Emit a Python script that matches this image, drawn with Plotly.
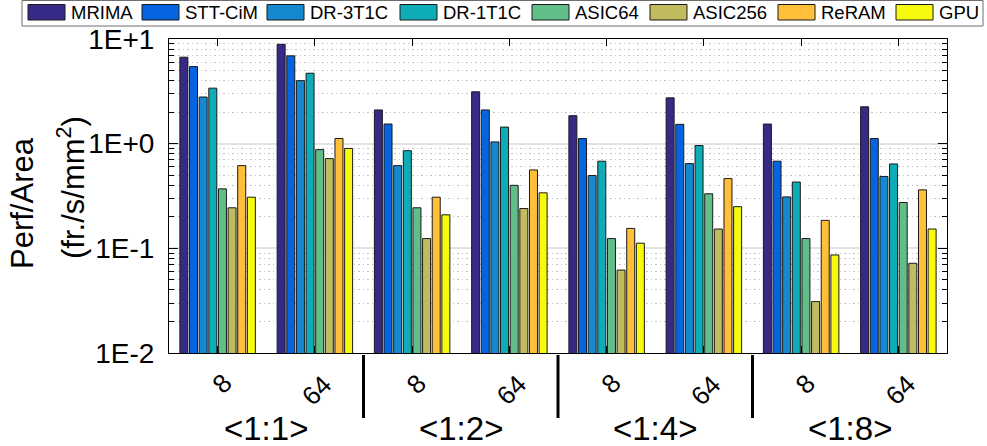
import plotly.graph_objects as go

# Ratio groups and precision settings along the x axis
ratios = ["<1:1>", "<1:2>", "<1:4>", "<1:8>"]
bits = ["8", "64"]

# Perf/Area (fr./s/mm^2) per design, ordered <1:1>-8, <1:1>-64, <1:2>-8, ...
mrima = [6.7, 8.9, 2.1, 3.13, 1.85, 2.74, 1.54, 2.25]
stt_cim = [5.45, 6.9, 1.54, 2.1, 1.12, 1.53, 0.68, 1.12]
dr_3t1c = [2.79, 4.0, 0.617, 1.04, 0.496, 0.645, 0.31, 0.485]
dr_1t1c = [3.39, 4.71, 0.857, 1.44, 0.68, 0.96, 0.43, 0.64]
asic64 = [0.37, 0.877, 0.244, 0.40, 0.124, 0.332, 0.124, 0.274]
asic256 = [0.244, 0.72, 0.124, 0.24, 0.062, 0.153, 0.031, 0.072]
reram = [0.617, 1.12, 0.308, 0.561, 0.155, 0.464, 0.185, 0.362]
gpu = [0.308, 0.90, 0.209, 0.339, 0.112, 0.25, 0.0864, 0.153]

series_names = ["MRIMA", "STT-CiM", "DR-3T1C", "DR-1T1C", "ASIC64", "ASIC256", "ReRAM", "GPU"]
series_values = [mrima, stt_cim, dr_3t1c, dr_1t1c, asic64, asic256, reram, gpu]
colors = ["#352a87", "#0565e0", "#1589d0", "#0eacb6", "#62be89", "#c0bb5e", "#ffbf38", "#f7f90f"]

y_tick_vals = [0.01, 0.1, 1, 10]
y_tick_text = ["1E-2", "1E-1", "1E+0", "1E+1"]
y_title = ["Perf/Area", "(fr./s/mm<sup>2</sup>)"]

FONT = "Liberation Sans, Arial, sans-serif"

# plot-area geometry in pixels
W, H = 987, 446
L, R, T, B = 169, 40, 39, 93
PW, PH = W - L - R, H - T - B


def px_x(px):
    return (px - L) / PW


def px_y(py):
    return (H - B - py) / PH


positions = [i for i in range(len(ratios) * len(bits))]

fig = go.Figure()
for name, vals, col in zip(series_names, series_values, colors):
    fig.add_trace(go.Bar(
        x=positions, y=vals, name=name,
        marker=dict(color=col, line=dict(color="#1a1a1a", width=1)),
        showlegend=False,
    ))

minor_vals = [k * 10 ** e for e in (-2, -1, 0) for k in range(2, 10)]

fig.update_layout(
    width=W, height=H,
    margin=dict(l=L, r=R, t=T, b=B, pad=0),
    paper_bgcolor="white", plot_bgcolor="white",
    barmode="group", bargap=0.207, bargroupgap=0.17,
    font=dict(family=FONT, color="black"),
    xaxis=dict(
        range=[-0.5, len(positions) - 0.5],
        tickmode="array", tickvals=positions,
        ticks="inside", ticklen=7, tickcolor="black", tickwidth=1,
        showticklabels=False, showgrid=False, zeroline=False,
        showline=True, linecolor="black", linewidth=1, mirror="ticks",
    ),
    yaxis=dict(
        type="log", range=[-2, 1],
        tickmode="array", tickvals=y_tick_vals, ticktext=y_tick_text,
        ticks="inside", ticklen=9, tickcolor="black", tickwidth=1,
        tickfont=dict(size=28, family=FONT),
        ticklabelstandoff=8,
        showgrid=True, gridcolor="#e2e2e2", gridwidth=1.5,
        showline=True, linecolor="black", linewidth=1, mirror="ticks",
        zeroline=False,
        minor=dict(
            tickmode="array", tickvals=minor_vals,
            ticks="inside", ticklen=5, tickcolor="black", tickwidth=1,
            showgrid=True, gridcolor="#c4c4c4", gridwidth=1, griddash="1.5px,3px",
        ),
    ),
)

annotations = []

# y-axis title, drawn as two rotated lines
for line, cx, cy in zip(y_title, (22, 71), (203, 188)):
    annotations.append(dict(
        xref="paper", yref="paper", x=px_x(cx), y=px_y(cy),
        text=line, textangle=-90,
        showarrow=False, font=dict(size=31, family=FONT),
        xanchor="center", yanchor="middle",
    ))

# precision labels under each bar group
for i, pos in enumerate(positions):
    lab = bits[i % len(bits)]
    annotations.append(dict(
        xref="x", yref="paper", x=pos, y=px_y(384 if lab == "8" else 390),
        xshift=4 if lab == "8" else 2,
        text=lab, textangle=-45, showarrow=False,
        font=dict(size=26, family=FONT),
        xanchor="center", yanchor="middle",
    ))

# ratio labels centred under each pair
for g, r in enumerate(ratios):
    centre = (positions[g * 2] + positions[g * 2 + 1]) / 2
    annotations.append(dict(
        xref="x", yref="paper", x=centre, y=px_y(428),
        text=r, showarrow=False, font=dict(size=33, family=FONT),
        xanchor="center", yanchor="middle",
    ))

shapes = []
# separators between ratio groups
for g in range(1, len(ratios)):
    sep = positions[g * 2] - 0.5
    shapes.append(dict(
        type="line", xref="x", yref="paper", x0=sep, x1=sep,
        y0=px_y(355), y1=px_y(418), line=dict(color="black", width=3),
    ))

# legend box with swatches
shapes.append(dict(
    type="rect", xref="paper", yref="paper",
    x0=px_x(22), x1=px_x(983), y0=px_y(26), y1=px_y(0.5),
    line=dict(color="#6e6e6e", width=1), fillcolor="white", layer="above",
))
swatch_left = [28, 142, 267, 400, 532, 650, 778, 896]
for name, col, sx in zip(series_names, colors, swatch_left):
    shapes.append(dict(
        type="rect", xref="paper", yref="paper",
        x0=px_x(sx), x1=px_x(sx + 37), y0=px_y(20), y1=px_y(4.5),
        line=dict(color="#1a1a1a", width=1), fillcolor=col, layer="above",
    ))
    annotations.append(dict(
        xref="paper", yref="paper", x=px_x(sx + 41), y=px_y(12.5),
        text=name, showarrow=False, font=dict(size=18.5, family=FONT),
        xanchor="left", yanchor="middle",
    ))

fig.update_layout(annotations=annotations, shapes=shapes)

fig.write_html("out.html")
